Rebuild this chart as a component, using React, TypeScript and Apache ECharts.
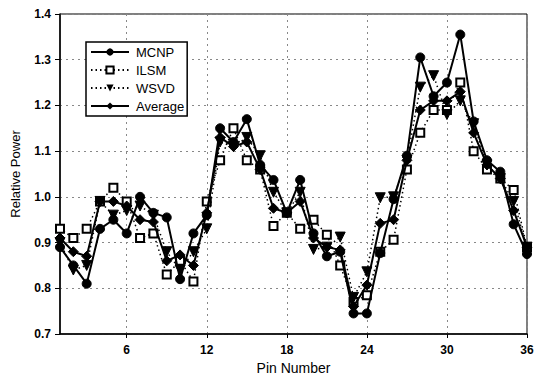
import React, { useEffect, useRef } from "react";
import * as echarts from "echarts";

const pins: string[] = Array.from({ length: 36 }, (_, i) => String(i + 1));

const mcnp = [0.89, 0.85, 0.81, 0.93, 0.95, 0.92, 1.0, 0.965, 0.955, 0.82, 0.92, 0.96,
  1.15, 1.12, 1.17, 1.07, 1.037, 0.965, 1.037, 0.92, 0.87, 0.88, 0.745, 0.745,
  0.877, 0.995, 1.09, 1.305, 1.22, 1.25, 1.355, 1.165, 1.08, 1.055, 0.94, 0.875];
const ilsm = [0.93, 0.91, 0.93, 0.99, 1.02, 0.99, 0.91, 0.92, 0.83, 0.86, 0.815, 0.99,
  1.08, 1.15, 1.08, 1.06, 0.936, 0.965, 0.93, 0.95, 0.917, 0.85, 0.77, 0.785,
  0.88, 0.906, 1.06, 1.14, 1.19, 1.19, 1.25, 1.1, 1.06, 1.04, 1.015, 0.89];
const wsvd = [0.9, 0.84, 0.85, 0.99, 0.96, 0.97, 0.98, 0.96, 0.88, 0.84, 0.88, 0.93,
  1.12, 1.11, 1.13, 1.09, 1.01, 0.965, 1.01, 0.885, 0.89, 0.912, 0.78, 0.836,
  0.998, 1.0, 1.08, 1.24, 1.265, 1.18, 1.21, 1.16, 1.07, 1.04, 0.99, 0.89];
const average = [0.91, 0.88, 0.87, 0.99, 0.99, 0.98, 0.95, 0.945, 0.86, 0.873, 0.85, 0.965,
  1.13, 1.11, 1.12, 1.06, 0.975, 0.965, 0.99, 0.91, 0.89, 0.884, 0.76, 0.807,
  0.942, 0.95, 1.08, 1.19, 1.21, 1.21, 1.23, 1.14, 1.07, 1.04, 0.97, 0.89];

const FONT = "'Liberation Sans', Arial, sans-serif";

export default function App() {
  const ref = useRef<HTMLDivElement>(null);
  useEffect(() => {
    if (!ref.current) return;
    const chart = echarts.init(ref.current, undefined, { renderer: "svg" });
    const showSix = (i: number) => (i + 1) % 6 === 0;
    chart.setOption({
      animation: false,
      backgroundColor: "#fff",
      textStyle: { fontFamily: FONT },
      grid: {
        left: 60, right: 16, top: 14, bottom: 51,
        show: true, borderColor: "#000", borderWidth: 1, backgroundColor: "transparent",
      },
      legend: {
        orient: "vertical",
        left: 86, top: 42,
        padding: [3, 3, 3, 4],
        borderColor: "#000", borderWidth: 1.5, borderRadius: 0,
        backgroundColor: "#fff",
        itemWidth: 38, itemHeight: 9, itemGap: 4,
        textStyle: { fontFamily: FONT, fontSize: 13, color: "#000", padding: [0, 0, 0, 2], lineHeight: 14 },
        data: ["MCNP", "ILSM", "WSVD", "Average"],
      },
      xAxis: {
        type: "category",
        data: pins,
        boundaryGap: false,
        name: "Pin Number",
        nameLocation: "middle",
        nameGap: 27,
        nameTextStyle: { fontFamily: FONT, fontSize: 14, color: "#000" },
        axisLine: { lineStyle: { color: "#000", width: 1.5 } },
        axisTick: { show: true, interval: showSix, length: 4, lineStyle: { color: "#000" } },
        axisLabel: { interval: showSix, fontFamily: FONT, fontSize: 12, fontWeight: "bold", color: "#000", margin: 10 },
        splitLine: { show: true, interval: showSix, lineStyle: { color: "#888", type: [2, 4], width: 1 } },
      },
      yAxis: {
        type: "value",
        min: 0.7, max: 1.4, interval: 0.1,
        name: "Relative Power",
        nameLocation: "middle",
        nameGap: 38,
        nameTextStyle: { fontFamily: FONT, fontSize: 13, color: "#000" },
        axisLine: { show: true, lineStyle: { color: "#000", width: 1.5 } },
        axisTick: { show: true, length: 5, lineStyle: { color: "#000" } },
        axisLabel: { formatter: (v: number) => v.toFixed(1), fontFamily: FONT, fontSize: 12, fontWeight: "bold", color: "#000", margin: 9 },
        splitLine: { show: true, lineStyle: { color: "#888", type: [2, 4], width: 1 } },
      },
      series: [
        {
          name: "MCNP", type: "line", data: mcnp, showAllSymbol: true,
          symbol: "circle", symbolSize: 9,
          lineStyle: { color: "#000", width: 2, type: "solid" },
          itemStyle: { color: "#000", borderColor: "#000" },
          z: 4,
        },
        {
          name: "ILSM", type: "line", data: ilsm, showAllSymbol: true,
          symbol: "rect", symbolSize: 8,
          lineStyle: { color: "#000", width: 1.5, type: [1.5, 3] },
          itemStyle: { color: "#fff", borderColor: "#000", borderWidth: 2 },
          z: 3,
        },
        {
          name: "WSVD", type: "line", data: wsvd, showAllSymbol: true,
          symbol: "triangle", symbolRotate: 180, symbolSize: 10,
          lineStyle: { color: "#000", width: 1.5, type: [1.5, 3] },
          itemStyle: { color: "#000", borderColor: "#000" },
          z: 3,
        },
        {
          name: "Average", type: "line", data: average, showAllSymbol: true,
          symbol: "diamond", symbolSize: 10,
          lineStyle: { color: "#000", width: 2, type: "solid" },
          itemStyle: { color: "#000", borderColor: "#000" },
          z: 4,
        },
      ],
    });
    return () => chart.dispose();
  }, []);
  return <div ref={ref} style={{ width: 543, height: 385, position: "absolute", left: 0, top: 0 }} />;
}
